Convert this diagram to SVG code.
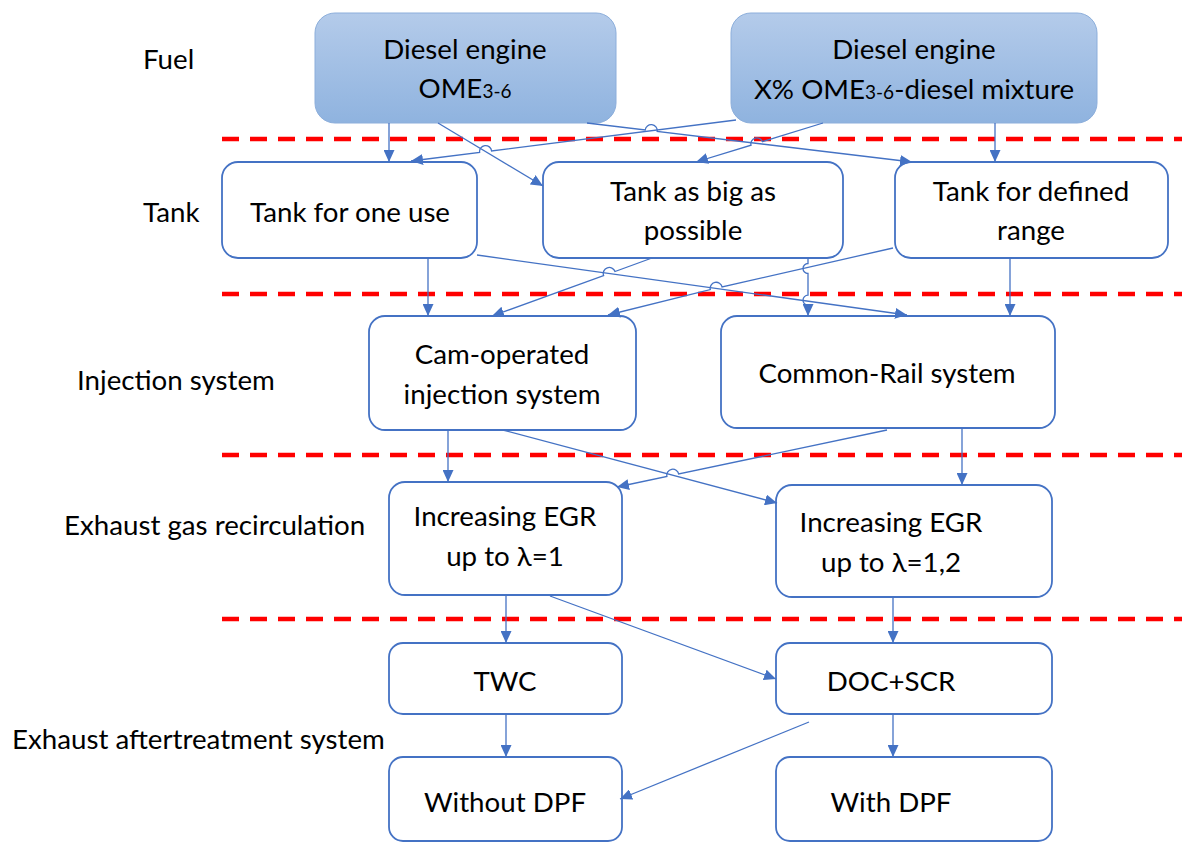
<svg xmlns="http://www.w3.org/2000/svg" width="1182" height="842" viewBox="0 0 1182 842">
<defs>
<linearGradient id="topFill" x1="0" y1="0" x2="0" y2="1">
<stop offset="0" stop-color="#b4cbea"/>
<stop offset="1" stop-color="#8fb3df"/>
</linearGradient>
<marker id="arr" markerUnits="userSpaceOnUse" markerWidth="13" markerHeight="11" refX="12" refY="5.5" orient="auto">
<path d="M0,0 L12,5.5 L0,11 z" fill="#4472c4"/>
</marker>
<style>
.box{fill:#ffffff;stroke:#4472c4;stroke-width:1.8}
.topbox{fill:url(#topFill);stroke:#8caedb;stroke-width:1}
.t{font-family:Lato,"Liberation Sans",sans-serif;font-size:27.7px;fill:#000000;text-anchor:middle}
.lbl{font-family:Lato,"Liberation Sans",sans-serif;font-size:27.7px;fill:#000000}
.sub{font-size:19px}
.sep{stroke:#ff0000;stroke-width:4.5;stroke-dasharray:17 11;fill:none}
.ca{stroke:#4472c4;stroke-width:1.3;fill:none;marker-end:url(#arr)}
</style>
</defs>
<rect width="1182" height="842" fill="#ffffff"/>

<g id="separators">
<line class="sep" x1="222" y1="139" x2="1182" y2="139"/>
<line class="sep" x1="222" y1="294" x2="1182" y2="294"/>
<line class="sep" x1="222" y1="455" x2="1182" y2="455"/>
<line class="sep" x1="222" y1="619" x2="1182" y2="619"/>
</g>

<g id="row-labels">
<text class="lbl" x="143" y="69">Fuel</text>
<text class="lbl" x="143" y="222">Tank</text>
<text class="lbl" x="77" y="390">Injection system</text>
<text class="lbl" x="64" y="535">Exhaust gas recirculation</text>
<text class="lbl" x="12" y="749">Exhaust aftertreatment system</text>
</g>

<g id="fuel-ome">
<rect class="topbox" x="315" y="13" width="301" height="110" rx="20"/>
<text class="t" x="465" y="59">Diesel engine</text>
<text class="t" x="465" y="98">OME<tspan class="sub">3-6</tspan></text>
</g>
<g id="fuel-mix">
<rect class="topbox" x="731" y="13" width="366" height="110" rx="20"/>
<text class="t" x="914" y="59">Diesel engine</text>
<text class="t" x="914" y="99">X% OME<tspan class="sub">3-6</tspan>-diesel mixture</text>
</g>

<g id="tank-one-use">
<rect class="box" x="222" y="162" width="255" height="96" rx="16"/>
<text class="t" x="350" y="222">Tank for one use</text>
</g>
<g id="tank-big">
<rect class="box" x="543" y="162" width="300" height="96" rx="16"/>
<text class="t" x="693" y="201">Tank as big as</text>
<text class="t" x="693" y="240">possible</text>
</g>
<g id="tank-range">
<rect class="box" x="895" y="162" width="273" height="96" rx="16"/>
<text class="t" x="1031" y="201">Tank for defined</text>
<text class="t" x="1031" y="240">range</text>
</g>

<g id="inj-cam">
<rect class="box" x="369" y="316" width="267" height="114" rx="16"/>
<text class="t" x="502" y="364">Cam-operated</text>
<text class="t" x="502" y="404">injection system</text>
</g>
<g id="inj-cr">
<rect class="box" x="721" y="316" width="334" height="112" rx="16"/>
<text class="t" x="887" y="383">Common-Rail system</text>
</g>

<g id="egr-1">
<rect class="box" x="389" y="482" width="233" height="113" rx="16"/>
<text class="t" x="505" y="526">Increasing EGR</text>
<text class="t" x="505" y="566">up to λ=1</text>
</g>
<g id="egr-12">
<rect class="box" x="776" y="485" width="276" height="112" rx="16"/>
<text class="t" x="891" y="532">Increasing EGR</text>
<text class="t" x="891" y="572">up to λ=1,2</text>
</g>

<g id="twc">
<rect class="box" x="389" y="643" width="233" height="71" rx="14"/>
<text class="t" x="505" y="691">TWC</text>
</g>
<g id="doc-scr">
<rect class="box" x="776" y="643" width="276" height="71" rx="14"/>
<text class="t" x="891" y="691">DOC+SCR</text>
</g>
<g id="without-dpf">
<rect class="box" x="389" y="757" width="233" height="84" rx="14"/>
<text class="t" x="505" y="812">Without DPF</text>
</g>
<g id="with-dpf">
<rect class="box" x="776" y="757" width="276" height="84" rx="14"/>
<text class="t" x="891" y="812">With DPF</text>
</g>

<g id="connectors">
<path class="ca" d="M389,123 V162"/>
<path class="ca" d="M438,123 L543,186"/>
<path class="ca" d="M587,123 L645.2,130 A6,6 0 0 1 657.2,131.4 L912,162"/>
<path class="ca" d="M736,120 L491.6,150.9 A6,6 0 0 0 479.6,152.4 L411,161"/>
<path class="ca" d="M823,123 L762.4,141.6 A6,6 0 0 0 751,145.2 L696,162"/>
<path class="ca" d="M995,123 V162"/>

<path class="ca" d="M428,258 V316"/>
<path class="ca" d="M477,255 L907,315"/>
<path class="ca" d="M652,258 L615,271.5 A6,6 0 0 0 603.6,275.5 L492,316"/>
<path class="ca" d="M893,248 L722.1,287 A6,6 0 0 0 710.3,289.6 L608,315"/>
<path class="ca" d="M808,258 V263.5 A5,5 0 0 0 808,273.5 V295.2 A5,5 0 0 0 808,305.2 V316"/>
<path class="ca" d="M1010,258 V316"/>

<path class="ca" d="M448,430 V482"/>
<path class="ca" d="M503,430 L777,503"/>
<path class="ca" d="M887,430 L678.7,474 A6,6 0 0 0 666.9,476.4 L617,487"/>
<path class="ca" d="M962,428 V485"/>

<path class="ca" d="M506,595 V643"/>
<path class="ca" d="M550,596 L776,679"/>
<path class="ca" d="M893,597 V643"/>
<path class="ca" d="M506,714 V757"/>
<path class="ca" d="M809,722 L620,799"/>
<path class="ca" d="M893,714 V757"/>
</g>
</svg>
